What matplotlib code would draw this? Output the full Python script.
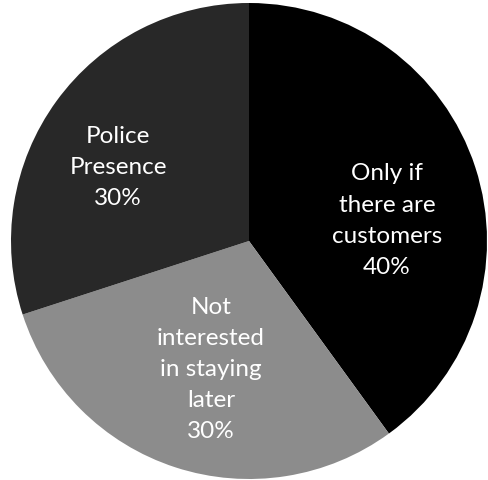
import matplotlib.pyplot as plt

# Данные круговой диаграммы
labels = ['Only if\nthere are\ncustomers\n40%',
          'Not\ninterested\nin staying\nlater\n30%',
          'Police\nPresence\n30%']
shares = [40, 30, 30]
colors = ['#000000', '#8c8c8c', '#282828']
# положения подписей (в долях радиуса)
label_pos = [(0.58, 0.085), (-0.16, -0.54), (-0.55, 0.31)]

plt.rcParams['font.family'] = ['Lato', 'DejaVu Sans']

fig = plt.figure(figsize=(4.88, 4.80), dpi=100)
ax = fig.add_axes([11 / 488, 1 / 480, 476 / 488, 476 / 480])

wedges, texts = ax.pie(shares, labels=labels, colors=colors,
                       startangle=90, counterclock=False,
                       labeldistance=0.6,
                       wedgeprops=dict(linewidth=0),
                       textprops=dict(color='white', fontsize=17.5,
                                      ha='center', va='center',
                                      linespacing=1.6))
for t, pos in zip(texts, label_pos):
    t.set_position(pos)
    t.set_horizontalalignment('center')

ax.set_xlim(-1, 1)
ax.set_ylim(-1, 1)
ax.set_aspect('equal')
ax.axis('off')

fig.savefig('out.png', dpi=100)
